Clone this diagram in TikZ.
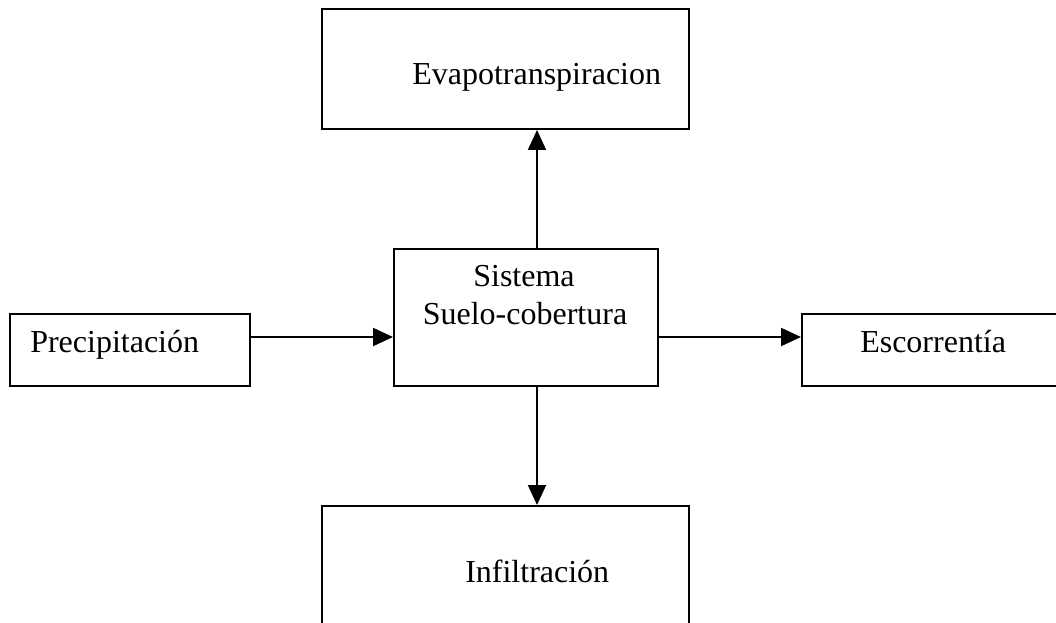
\documentclass[tikz,border=0pt]{standalone}
\usepackage{fontspec}
\setmainfont{Liberation Serif}
\usetikzlibrary{arrows.meta}
\begin{document}
\begin{tikzpicture}[x=0.75pt,y=-0.75pt,
  boxshape/.style={draw, line width=1.5pt, rectangle, inner sep=0pt, anchor=north west},
  lbl/.style={font=\fontsize{24}{28}\selectfont, inner sep=0pt, anchor=base west},
  flow/.style={line width=1.5pt, -{Triangle[length=15pt,width=13.5pt]}}]
\clip (0,0) rectangle (1056,623);
\node[boxshape, minimum width=275.25pt, minimum height=90pt] (evap) at (321,8) {};
\node[boxshape, minimum width=198pt, minimum height=102.75pt] (sis) at (393,248) {};
\node[boxshape, minimum width=180pt, minimum height=54pt] (prec) at (9,313) {};
\node[boxshape, minimum width=201.75pt, minimum height=54pt] (esc) at (801,313) {};
\node[boxshape, minimum width=275.25pt, minimum height=108.75pt] (inf) at (321,505) {};
\node[lbl] (tevap) at (412,85) {Evapotranspiracion};
\node[lbl] (tprec) at (30,353) {Precipitación};
\node[lbl] (tesc) at (860,353) {Escorrentía};
\node[lbl, anchor=base] (tsis1) at (524,287) {Sistema};
\node[lbl, anchor=base] (tsis2) at (525,325) {Suelo-cobertura};
\node[lbl] (tinf) at (465,582) {Infiltración};
\coordinate (ax) at (537,0);
\coordinate (ay) at (0,337);
\draw[flow] (sis.north -| ax) -- (evap.south -| ax);
\draw[flow] (sis.south -| ax) -- (inf.north -| ax);
\draw[flow] (prec.east |- ay) -- (sis.west |- ay);
\draw[flow] (sis.east |- ay) -- (esc.west |- ay);
\end{tikzpicture}
\end{document}
